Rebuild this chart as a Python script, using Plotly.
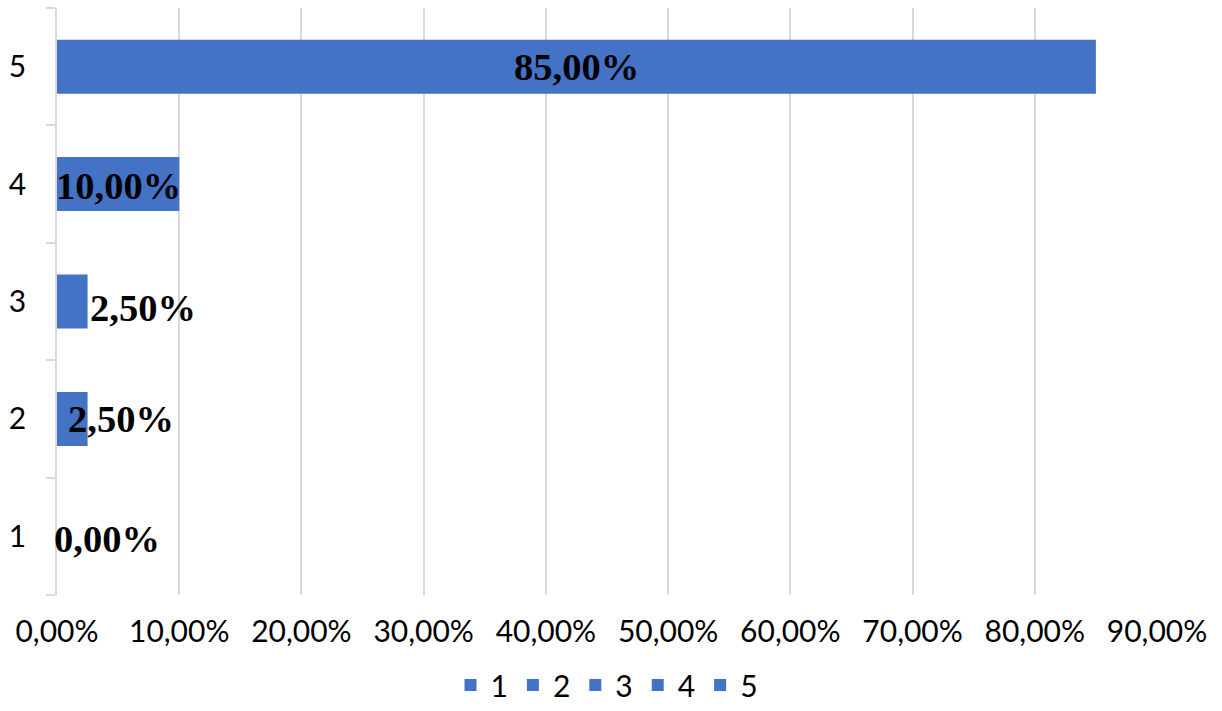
import plotly.graph_objects as go

categories = ["1", "2", "3", "4", "5"]
values = [0.0, 0.025, 0.025, 0.10, 0.85]
label_texts = ["0,00%", "2,50%", "2,50%", "10,00%", "85,00%"]
x_ticks = [0, 0.1, 0.2, 0.3, 0.4, 0.5, 0.6, 0.7, 0.8, 0.9]

BAR = "#4472C4"
GRID = "#d9d9d9"
TICKFONT = dict(family="Lato, Carlito, Calibri, sans-serif", size=30, color="#000000")

fig = go.Figure()
for cat, val in zip(categories, values):
    fig.add_trace(go.Bar(
        x=[val], y=[cat], orientation="h", name=cat,
        marker=dict(color=BAR, line=dict(width=0)),
        hoverinfo="skip",
    ))

# data label placement (as in the reference, labels were moved individually)
placements = {
    "5": dict(mode="center", xshift=0, yshift=0),
    "4": dict(mode="center", xshift=0, yshift=2),
    "3": dict(mode="left", xshift=0, yshift=6),
    "2": dict(mode="left", xshift=-22, yshift=0),
    "1": dict(mode="left", xshift=-5, yshift=3),
}
for i, (cat, val, txt) in enumerate(zip(categories, values, label_texts)):
    p = placements[cat]
    if p["mode"] == "center":
        x, anchor = val / 2, "center"
    else:
        x, anchor = val, "left"
    fig.add_annotation(
        x=x, y=i, text="<b>" + txt + "</b>", showarrow=False, xanchor=anchor, yanchor="middle",
        xshift=p["xshift"], yshift=-p["yshift"],
        font=dict(family="Liberation Serif, Times New Roman, serif", size=38.5, color="#000000"),
    )

fig.update_layout(
    width=1222, height=711,
    margin=dict(l=57, r=65, t=8, b=116, autoexpand=False),
    paper_bgcolor="white", plot_bgcolor="white",
    barmode="overlay", bargap=0.54,
    separators=", ",
    showlegend=True,
    legend=dict(orientation="h", x=0.5, xanchor="center", yref="container", y=0.0, yanchor="bottom",
                font=TICKFONT, itemclick=False, traceorder="normal", itemwidth=30),
    xaxis=dict(range=[0, 0.9], tickvals=x_ticks, tickformat=".2%", showgrid=True, gridcolor=GRID,
               gridwidth=1.5, zeroline=False, showline=False, ticks="", tickfont=TICKFONT,
               ticklabelstandoff=16, automargin=False),
    yaxis=dict(type="category", categoryorder="array", categoryarray=categories,
               range=[-0.5, 4.5], showgrid=False, zeroline=False, showline=True, linecolor=GRID,
               linewidth=1.5, ticks="outside", tickson="boundaries", ticklen=9, tickcolor=GRID,
               tickwidth=1.5, tickfont=TICKFONT, ticklabelstandoff=23, automargin=False),
)

fig.write_html("out.html", config={"displayModeBar": False},
               post_script="document.body.style.margin='0';document.body.style.overflow='hidden';")
